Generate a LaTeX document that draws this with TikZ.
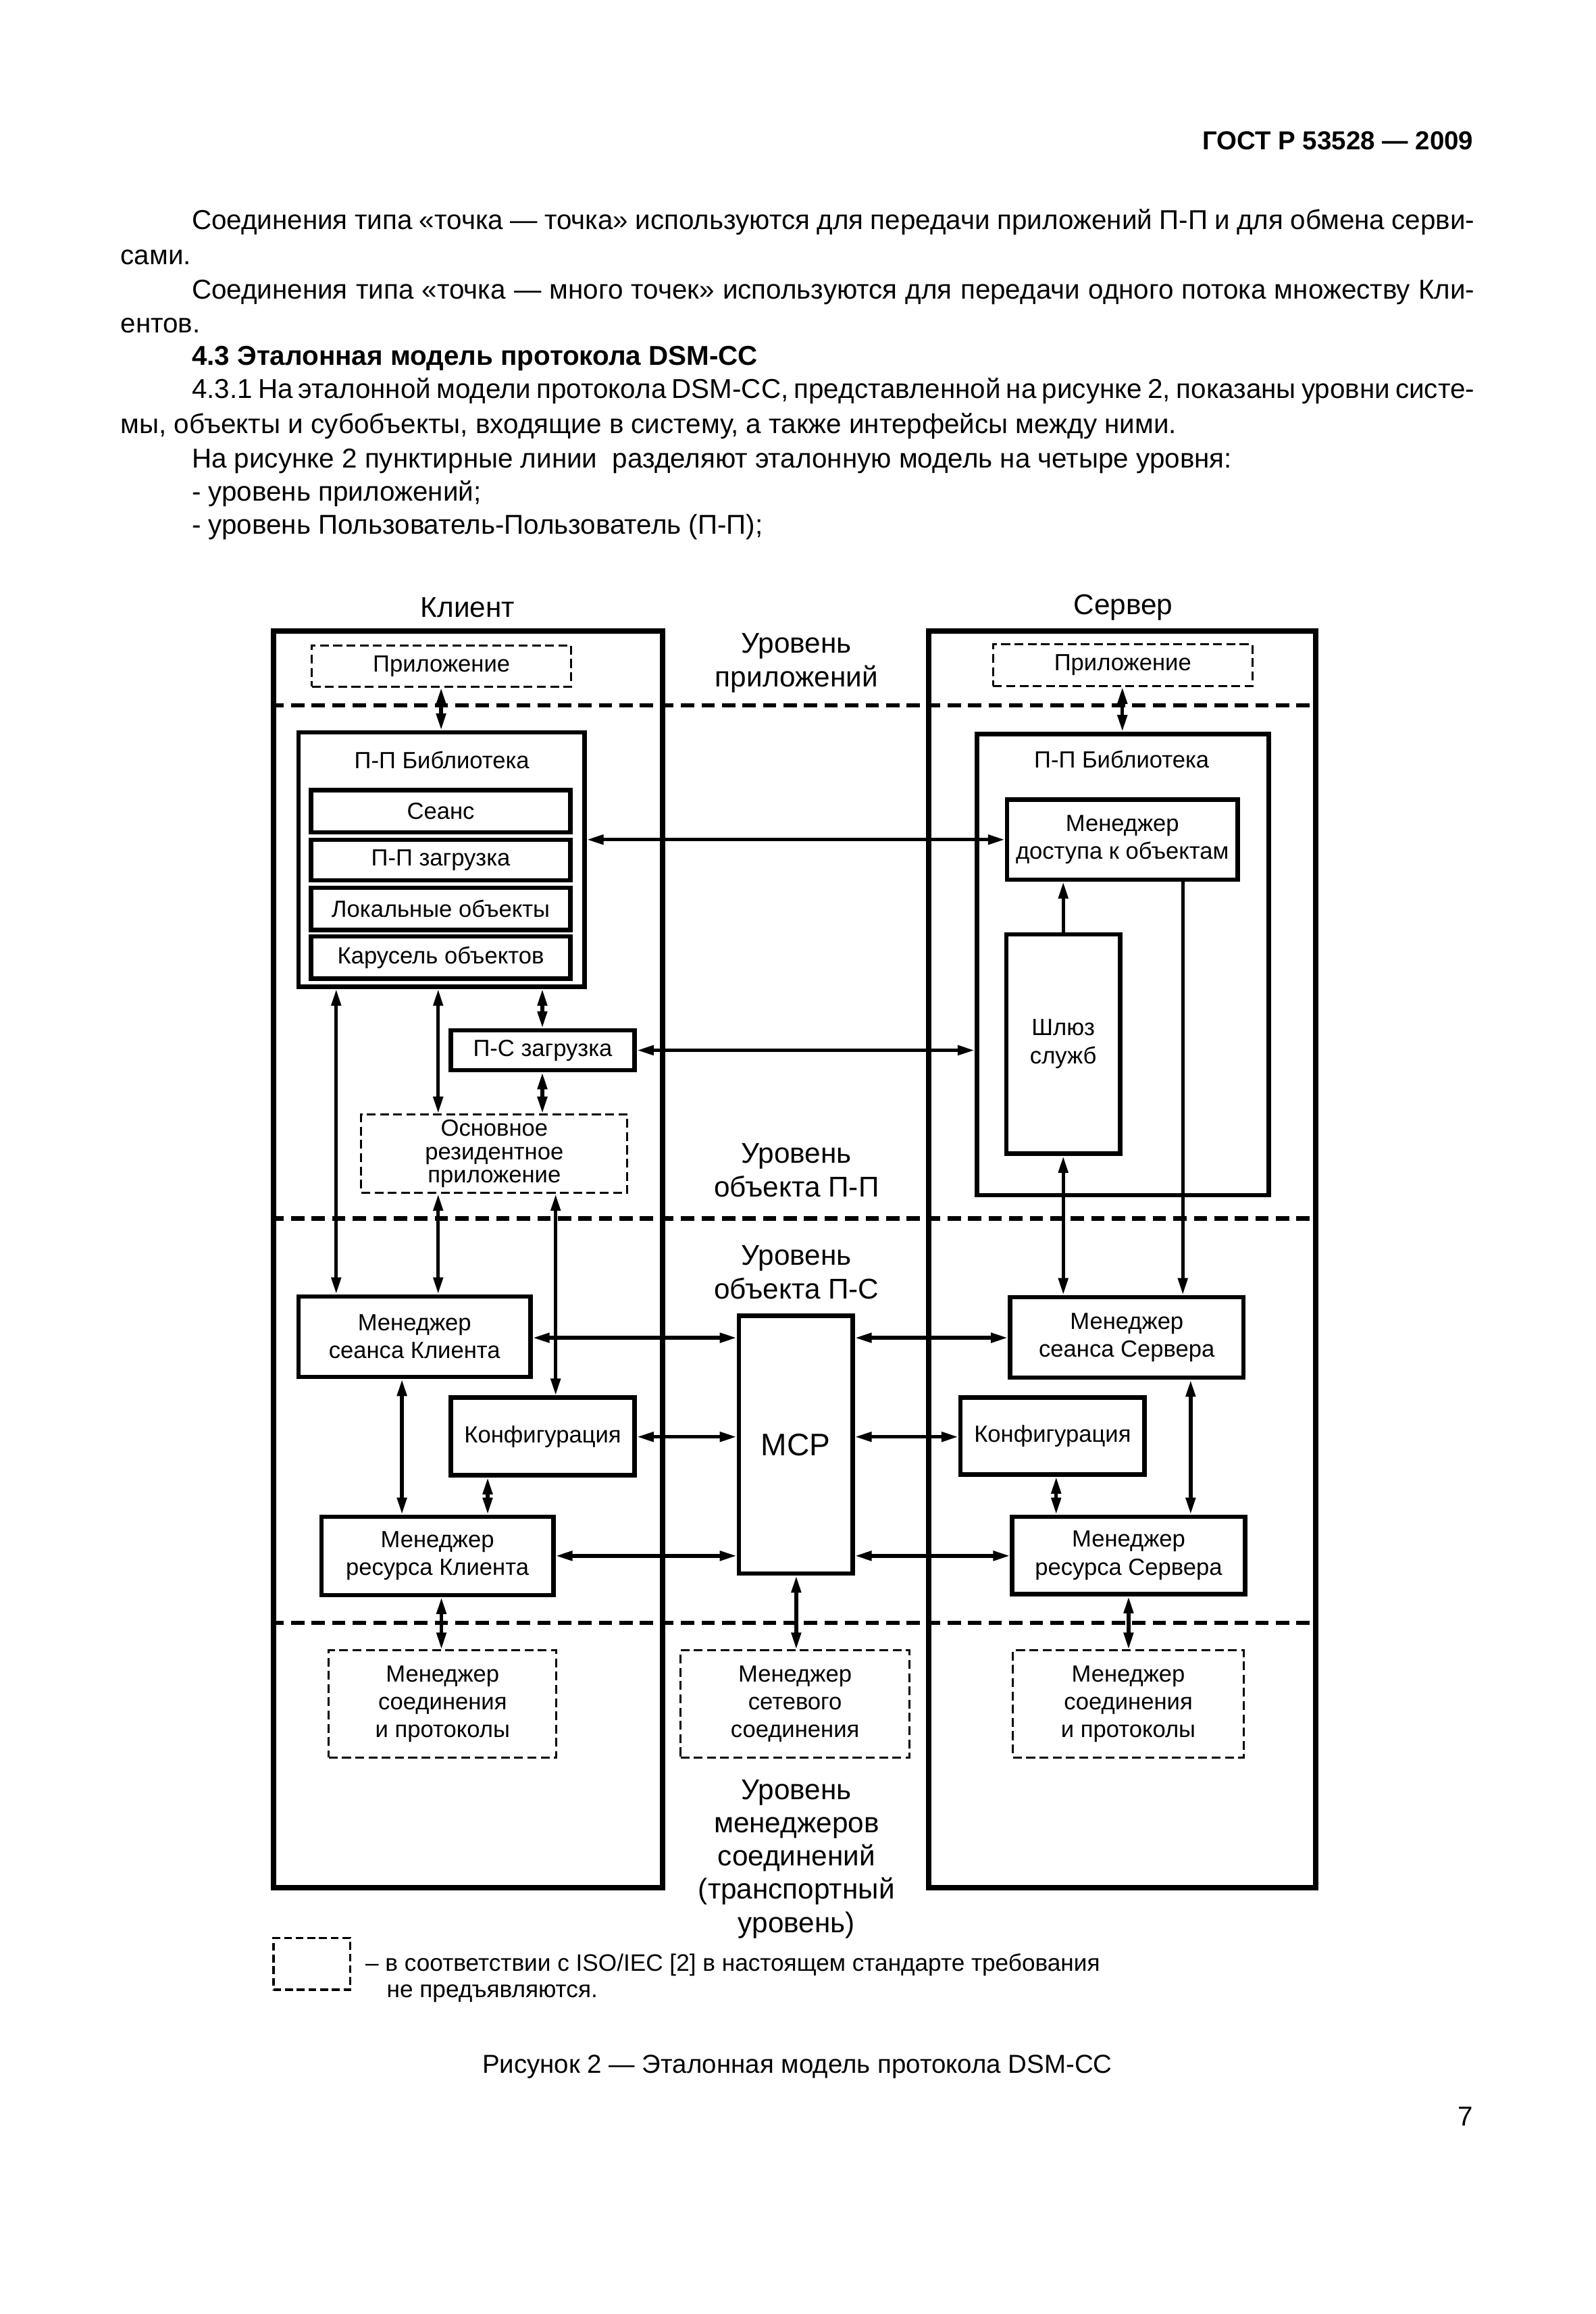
\documentclass[tikz,border=0pt]{standalone}
\usepackage{fontspec}
\setmainfont{Liberation Sans}
\usetikzlibrary{arrows.meta}
\newcommand\txtbody{\fontsize{10.5}{12.5}\selectfont}
\newcommand\txtbox{\fontsize{9}{10.8}\selectfont}
\newcommand\txtlevel{\fontsize{11}{13}\selectfont}
\tikzset{corners/.style n args={4}{at={({(#1+#3)/2},{(#2+#4)/2})},minimum width={(#3-#1)*0.2mm},minimum height={(#4-#2)*0.2mm}}}

\begin{document}
\begin{tikzpicture}[x=0.2mm,y=-0.2mm,>={Triangle[length=6.5pt,width=3.6pt]}]
\tikzstyle{frame}=[draw,line width=2.1pt,inner sep=0pt]
\tikzstyle{block}=[draw,line width=1.7pt,inner sep=0pt,align=center,font=\txtbox]
\tikzstyle{dblock}=[draw,line width=0.8pt,dash pattern=on 3.4pt off 1.7pt,inner sep=0pt,align=center,font=\txtbox]
\tikzstyle{tier}=[line width=1.6pt,dash pattern=on 5.1pt off 2.8pt]
\tikzstyle{link}=[line width=1.4pt,<->]
\tikzstyle{para}=[inner sep=0pt,anchor=base west,font=\txtbody]
\tikzstyle{caption}=[inner sep=0pt,align=center,font=\txtlevel]
\useasboundingbox (0,0) rectangle (1080,1565.4);

\node[inner sep=0pt,anchor=base east,font={\fontsize{10}{12}\selectfont\bfseries}] (hdr) at (997.3,101.2) {ГОСТ Р 53528 — 2009};
\node[para] (t1) at (129.5,155.3) {\makebox[173.6mm][s]{Соединения типа «точка — точка» используются для передачи приложений П-П и для обмена серви-}};
\node[para] (t2) at (81.3,178.8) {сами.};
\node[para] (t3) at (129.5,202.1) {\makebox[173.6mm][s]{Соединения типа «точка — много точек» используются для передачи одного потока множеству Кли-}};
\node[para] (t4) at (81.3,225.1) {ентов.};
\node[para,font=\txtbody\bfseries] (t5) at (129.5,247.1) {4.3 Эталонная модель протокола DSM-CC};
\node[para] (t6) at (129.5,269.5) {\makebox[173.6mm][s]{4.3.1 На эталонной модели протокола DSM-CC, представленной на рисунке 2, показаны уровни систе-}};
\node[para] (t7) at (81.3,293.1) {мы, объекты и субобъекты, входящие в систему, а также интерфейсы между ними.};
\node[para] (t8) at (129.5,316.4) {На рисунке 2 пунктирные линии \ разделяют эталонную модель на четыре уровня:};
\node[para] (t9) at (129.5,338.8) {- уровень приложений;};
\node[para] (t10) at (129.5,361.4) {- уровень Пользователь-Пользователь (П-П);};

\node[frame,corners={185}{427}{448.5}{1277}] (cliBox) {};
\node[frame,corners={628.5}{427}{890.5}{1277}] (srvBox) {};
\node[caption] (cliT) at (316.5,411) {Клиент};
\node[caption] (srvT) at (760,411) {Сервер};

\draw[tier] (cliBox.west |- 0,477) -- (srvBox.east |- 0,477);
\draw[tier] (cliBox.west |- 0,824.3) -- (srvBox.east |- 0,824.3);
\draw[tier] (cliBox.west |- 0,1097.7) -- (srvBox.east |- 0,1097.7);

\node[caption] (lvApp) at (539,448.5) {Уровень\\приложений};
\node[caption] (lvUU) at (539,791.5) {Уровень\\объекта П-П};
\node[caption] (lvUN) at (539,860.5) {Уровень\\объекта П-С};
\node[caption,font={\fontsize{11}{12.8}\selectfont}] (lvCM) at (539,1257.6) {Уровень\\менеджеров\\соединений\\(транспортный\\уровень)};

\node[dblock,corners={211}{436.5}{386.5}{464.5}] (cliApp) {Приложение};
\node[block,corners={202}{495.5}{395.5}{667.5}] (cliLib) {};
\node[inner sep=0pt,font=\txtbox] (cliLibT) at (299,514) {П-П Библиотека};
\node[block,corners={210.5}{534.5}{386}{563}] (cliSes) {Сеанс};
\node[block,corners={210.5}{568}{386}{595.5}] (cliDl) {П-П загрузка};
\node[block,corners={210.5}{600.5}{386}{629}] (cliLoc) {Локальные объекты};
\node[block,corners={210.5}{633.5}{386}{662}] (cliCar) {Карусель объектов};
\node[block,corners={305}{697}{429.5}{724}] (cliPS) {П-С загрузка};
\node[dblock,font={\fontsize{9}{9}\selectfont},corners={244.5}{754}{424.5}{807}] (cliRes) {Основное\\резидентное\\приложение};
\node[block,corners={202}{877}{359}{931.5}] (cliSM) {Менеджер\\сеанса Клиента};
\node[block,corners={305}{945.5}{429.5}{998}] (cliCfg) {Конфигурация};
\node[block,corners={217.5}{1026}{374.5}{1079}] (cliRM) {Менеджер\\ресурса Клиента};
\node[dblock,font={\fontsize{9}{10.6}\selectfont},corners={222.5}{1116.5}{376.5}{1189}] (cliCM) {Менеджер\\соединения\\и протоколы};

\node[block,font={\fontsize{12}{14}\selectfont},corners={500}{890}{577}{1064.5}] (mcp) {МСР};
\node[dblock,font={\fontsize{9}{10.6}\selectfont},corners={460.5}{1116.5}{615.5}{1189}] (netCM) {Менеджер\\сетевого\\соединения};

\node[dblock,corners={672}{436}{847.5}{464}] (srvApp) {Приложение};
\node[block,corners={661}{496.5}{858.5}{808.5}] (srvLib) {};
\node[inner sep=0pt,font=\txtbox] (srvLibT) at (759,513.7) {П-П Библиотека};
\node[block,corners={681.5}{541}{837.5}{595}] (srvAcc) {Менеджер\\доступа к объектам};
\node[block,corners={681}{632}{758}{780.5}] (srvGw) {Шлюз\\служб};
\node[block,corners={683.5}{877.5}{841.5}{932}] (srvSM) {Менеджер\\сеанса Сервера};
\node[block,corners={650}{945.5}{774.5}{997.5}] (srvCfg) {Конфигурация};
\node[block,corners={685}{1026}{842.5}{1078.5}] (srvRM) {Менеджер\\ресурса Сервера};
\node[dblock,font={\fontsize{9}{10.6}\selectfont},corners={685.5}{1116.5}{841.5}{1189}] (srvCM) {Менеджер\\соединения\\и протоколы};

\draw[link] (cliApp.south -| 298.5,0) -- (cliLib.north -| 298.5,0);
\draw[link] (srvApp.south -| 759.5,0) -- (srvLib.north -| 759.5,0);
\draw[link] (cliLib.east |- 0,568) -- (srvAcc.west |- 0,568);
\draw[link] (cliLib.south -| 367,0) -- (cliPS.north -| 367,0);
\draw[link] (cliPS.east |- 0,710.5) -- (srvLib.west |- 0,710.5);
\draw[link] (cliLib.south -| 296.5,0) -- (cliRes.north -| 296.5,0);
\draw[link] (cliPS.south -| 367,0) -- (cliRes.north -| 367,0);
\draw[link] (cliLib.south -| 227.5,0) -- (cliSM.north -| 227.5,0);
\draw[link] (cliRes.south -| 296.5,0) -- (cliSM.north -| 296.5,0);
\draw[link] (cliRes.south -| 376,0) -- (cliCfg.north -| 376,0);
\draw[link] (cliSM.east |- 0,905) -- (mcp.west |- 0,905);
\draw[link] (cliCfg.east |- 0,972) -- (mcp.west |- 0,972);
\draw[link] (cliSM.south -| 272,0) -- (cliRM.north -| 272,0);
\draw[link] (cliCfg.south -| 330,0) -- (cliRM.north -| 330,0);
\draw[link] (cliRM.east |- 0,1052.5) -- (mcp.west |- 0,1052.5);
\draw[link] (cliRM.south -| 298.7,0) -- (cliCM.north -| 298.7,0);
\draw[link] (mcp.south -| 538.8,0) -- (netCM.north -| 538.8,0);
\draw[link,<-] (srvAcc.south -| 719.5,0) -- (srvGw.north -| 719.5,0);
\draw[link,->] (srvAcc.south -| 800.4,0) -- (srvSM.north -| 800.4,0);
\draw[link] (srvGw.south -| 719.5,0) -- (srvSM.north -| 719.5,0);
\draw[link] (mcp.east |- 0,905) -- (srvSM.west |- 0,905);
\draw[link] (mcp.east |- 0,972) -- (srvCfg.west |- 0,972);
\draw[link] (srvCfg.south -| 714.7,0) -- (srvRM.north -| 714.7,0);
\draw[link] (srvSM.south -| 805.7,0) -- (srvRM.north -| 805.7,0);
\draw[link] (mcp.east |- 0,1052.5) -- (srvRM.west |- 0,1052.5);
\draw[link] (srvRM.south -| 763.7,0) -- (srvCM.north -| 763.7,0);

\node[dblock,line width=1pt,dash pattern=on 3pt off 1.5pt,corners={185}{1311}{237}{1346}] (legBox) {};
\node[para,font={\fontsize{9.15}{11}\selectfont}] (leg1) at (247,1333.5) {– в соответствии с ISO/IEC [2] в настоящем стандарте требования};
\node[para,font={\fontsize{9.15}{11}\selectfont}] (leg2) at (261.4,1351.3) {не предъявляются.};
\node[inner sep=0pt,anchor=base,font={\fontsize{10}{12}\selectfont}] (fig) at (539.5,1402.6) {Рисунок 2 — Эталонная модель протокола DSM-CC};
\node[inner sep=0pt,anchor=base east,font=\txtbody] (pg) at (997.3,1438.2) {7};
\end{tikzpicture}
\end{document}
